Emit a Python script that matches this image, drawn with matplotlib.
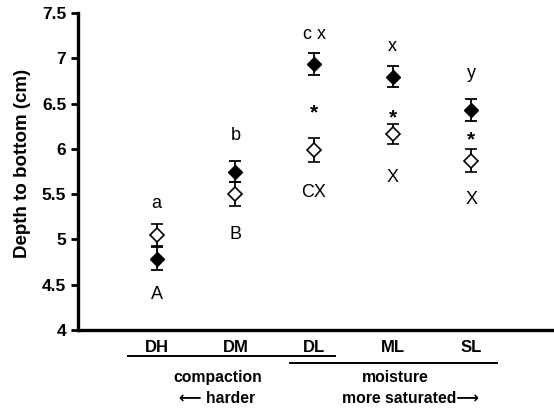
import matplotlib
matplotlib.use("Agg")
import matplotlib.pyplot as plt
import matplotlib.transforms as mtransforms

plt.rcParams['font.family'] = ['Liberation Sans', 'DejaVu Sans']

# Данные
categories = ['DH', 'DM', 'DL', 'ML', 'SL']
filled_mean = [4.79, 5.75, 6.94, 6.80, 6.43]
filled_err = [0.13, 0.12, 0.12, 0.12, 0.12]
open_mean = [5.05, 5.50, 5.99, 6.17, 5.87]
open_err = [0.125, 0.13, 0.13, 0.11, 0.125]

# Буквы над/под точками: (индекс категории, текст, высота)
upper_letters = [(0, 'a', 5.40), (1, 'b', 6.15), (2, 'c x', 7.26), (3, 'x', 7.13), (4, 'y', 6.83)]
lower_letters = [(0, 'A', 4.39), (1, 'B', 5.05), (2, 'CX', 5.52), (3, 'X', 5.68), (4, 'X', 5.44)]
stars = [(2, 6.40), (3, 6.34), (4, 6.10)]

x = list(range(1, len(categories) + 1))

fig = plt.figure(figsize=(5.54, 4.11), dpi=100)
ax = fig.add_axes([0.1408, 0.197, 0.8592, 0.771])

ax.errorbar(x, open_mean, yerr=open_err, fmt='D', mfc='white', mec='black',
            mew=1.2, ms=7.5, ecolor='black', elinewidth=1.3, capsize=4.5, capthick=1.3, zorder=3)
ax.errorbar(x, filled_mean, yerr=filled_err, fmt='D', mfc='black', mec='black',
            ms=7.5, ecolor='black', elinewidth=1.3, capsize=4.5, capthick=1.3, zorder=4)

for i, t, y in upper_letters + lower_letters:
    ax.text(x[i], y, t, ha='center', va='center', fontsize=13)
for i, y in stars:
    ax.text(x[i], y, '*', ha='center', va='center', fontsize=15, fontweight='bold')

ax.set_xlim(0, 6.05)
ax.set_ylim(4, 7.5)
ax.set_yticks([4, 4.5, 5, 5.5, 6, 6.5, 7, 7.5])
ax.set_yticklabels(['4', '4.5', '5', '5.5', '6', '6.5', '7', '7.5'], fontweight='bold', fontsize=12.5)
ax.set_xticks(x)
ax.set_xticklabels(categories, fontweight='bold', fontsize=12)
ax.tick_params(axis='x', length=0, pad=7)
ax.tick_params(axis='y', length=5, width=2, direction='out')
ax.set_ylabel('Depth to bottom (cm)', fontweight='bold', fontsize=13.5)
ax.yaxis.set_label_coords(-0.098, 0.527)

for s in ['top', 'right']:
    ax.spines[s].set_visible(False)
for s in ['left', 'bottom']:
    ax.spines[s].set_linewidth(2.4)

# Подписи групп под осью
trans = mtransforms.blended_transform_factory(ax.transData, ax.transAxes)
ax.plot([0.63, 3.27], [-0.082, -0.082], color='black', lw=1.4, transform=trans, clip_on=False)
ax.plot([2.69, 5.33], [-0.104, -0.104], color='black', lw=1.4, transform=trans, clip_on=False)
ax.text(1.78, -0.151, 'compaction', transform=trans, ha='center', va='center', fontweight='bold', fontsize=11.3)
ax.text(1.77, -0.217, '\u27f5 harder', transform=trans, ha='center', va='center', fontweight='bold', fontsize=11.3)
ax.text(4.03, -0.151, 'moisture', transform=trans, ha='center', va='center', fontweight='bold', fontsize=11.3)
ax.text(4.22, -0.217, 'more saturated\u27f6', transform=trans, ha='center', va='center', fontweight='bold', fontsize=11.3)

fig.savefig('out.png', dpi=100)
